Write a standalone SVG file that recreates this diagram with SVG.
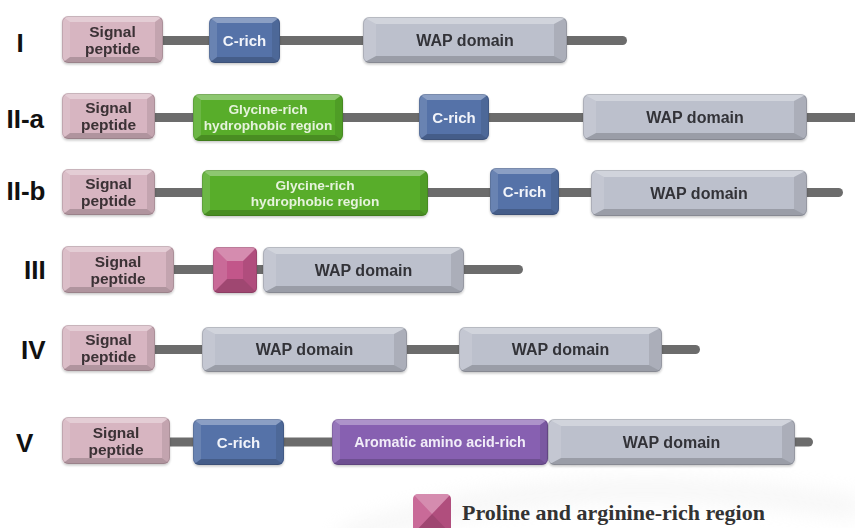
<svg xmlns="http://www.w3.org/2000/svg" width="855" height="528" viewBox="0 0 855 528">
<style>
.bg{fill:#ffffff}
.ln{stroke:#6c6c6c;stroke-width:9;fill:none;stroke-linecap:round}
.sp{fill:#D7B5C1}
.cr{fill:#5572A8}
.wap{fill:#BCC0CC}
.gl{fill:#58AD2C}
.ar{fill:#8761B1}
.pr{fill:#C2568A}
.t{fill:#ffffff;fill-opacity:.32}
.b{fill:#000000;fill-opacity:.18}
.l{fill:#ffffff;fill-opacity:.12}
.r{fill:#000000;fill-opacity:.09}
.edge{fill:none;stroke:#000;stroke-opacity:.12;stroke-width:1}
text{font-family:"Liberation Sans",Arial,sans-serif;font-weight:bold}
.tsp{font-size:15.5px;fill:#3a3034;text-anchor:middle}
.tcr{font-size:15px;fill:#f2f4fa;text-anchor:middle}
.twap{font-size:16px;fill:#333338;text-anchor:middle}
.tgl{font-size:13.7px;fill:#e6f3dc;text-anchor:middle}
.tar{font-size:14.3px;fill:#f1ecf8;text-anchor:middle}
.row{font-size:26px;fill:#111111}
.leg{font-family:"Liberation Serif","Times New Roman",serif;font-size:22px;fill:#333333}
.sh{filter:url(#ds)}
</style>
<defs>
<filter id="ds" x="-10%" y="-20%" width="120%" height="150%">
<feDropShadow dx="0" dy="1.5" stdDeviation="1.2" flood-color="#000" flood-opacity="0.22"/>
</filter>
<filter id="blur" x="-20%" y="-50%" width="140%" height="200%"><feGaussianBlur stdDeviation="10"/></filter>
<clipPath id="c1"><rect x="62" y="16" width="101" height="47" rx="6"/></clipPath>
<clipPath id="c2"><rect x="209" y="17" width="71" height="46" rx="6"/></clipPath>
<clipPath id="c3"><rect x="363" y="17" width="204" height="46" rx="6"/></clipPath>
<clipPath id="c4"><rect x="62" y="93" width="93" height="46" rx="6"/></clipPath>
<clipPath id="c5"><rect x="193" y="94" width="150" height="47" rx="6"/></clipPath>
<clipPath id="c6"><rect x="419" y="94" width="70" height="46" rx="6"/></clipPath>
<clipPath id="c7"><rect x="583" y="94" width="224" height="46" rx="6"/></clipPath>
<clipPath id="c8"><rect x="62" y="169" width="93" height="46" rx="6"/></clipPath>
<clipPath id="c9"><rect x="202" y="170" width="226" height="46" rx="6"/></clipPath>
<clipPath id="c10"><rect x="490" y="168" width="69" height="47" rx="6"/></clipPath>
<clipPath id="c11"><rect x="591" y="170" width="216" height="46" rx="6"/></clipPath>
<clipPath id="c12"><rect x="62" y="246" width="112" height="47" rx="6"/></clipPath>
<clipPath id="c13"><rect x="213" y="247" width="44" height="46" rx="5"/></clipPath>
<clipPath id="c14"><rect x="263" y="247" width="201" height="46" rx="6"/></clipPath>
<clipPath id="c15"><rect x="62" y="325" width="93" height="46" rx="6"/></clipPath>
<clipPath id="c16"><rect x="202" y="327" width="205" height="45" rx="6"/></clipPath>
<clipPath id="c17"><rect x="459" y="327" width="203" height="45" rx="6"/></clipPath>
<clipPath id="c18"><rect x="62" y="417" width="108" height="47" rx="6"/></clipPath>
<clipPath id="c19"><rect x="193" y="419" width="91" height="46" rx="6"/></clipPath>
<clipPath id="c20"><rect x="332" y="419" width="216" height="46" rx="6"/></clipPath>
<clipPath id="c21"><rect x="548" y="419" width="247" height="46" rx="6"/></clipPath>
<clipPath id="c22"><rect x="413" y="494" width="38" height="40" rx="5"/></clipPath>
</defs>
<rect class="bg" x="0" y="0" width="855" height="528"/>
<path d="M340 540 Q560 460 860 508" stroke="#e6e6e6" stroke-width="22" fill="none" opacity="0.35" filter="url(#blur)"/>

<g id="connectors">
<path class="ln" d="M150 40.5 H622.5"/>
<path class="ln" d="M150 117.5 H870"/>
<path class="ln" d="M150 192.5 H838.5"/>
<path class="ln" d="M160 269.5 H518.5"/>
<path class="ln" d="M150 349.5 H695.5"/>
<path class="ln" d="M150 442 H808.5"/>
</g>

<g id="labels">
<text class="row" x="16.5" y="52">I</text>
<text class="row" x="6.5" y="128">II-a</text>
<text class="row" x="6.5" y="200">II-b</text>
<text class="row" x="24" y="279">III</text>
<text class="row" x="21" y="359">IV</text>
<text class="row" x="16" y="452">V</text>
</g>

<!-- Row I -->
<g id="sp1" class="sh"><g clip-path="url(#c1)">
<rect class="sp" x="62" y="16" width="101" height="47"/>
<polygon class="t" points="62,16 163,16 155,22 70,22"/>
<polygon class="b" points="62,63 163,63 155,57 70,57"/>
<polygon class="l" points="62,16 70,22 70,57 62,63"/>
<polygon class="r" points="163,16 155,22 155,57 163,63"/>
</g><rect class="edge" x="62.5" y="16.5" width="100" height="46" rx="6"/>
<text class="tsp" x="112.5" y="36.5">Signal</text><text class="tsp" x="112.5" y="53.5">peptide</text></g>

<g id="cr1" class="sh"><g clip-path="url(#c2)">
<rect class="cr" x="209" y="17" width="71" height="46"/>
<polygon class="t" points="209,17 280,17 272,23 217,23"/>
<polygon class="b" points="209,63 280,63 272,57 217,57"/>
<polygon class="l" points="209,17 217,23 217,57 209,63"/>
<polygon class="r" points="280,17 272,23 272,57 280,63"/>
</g><rect class="edge" x="209.5" y="17.5" width="70" height="45" rx="6"/>
<text class="tcr" x="244.5" y="45.5">C-rich</text></g>

<g id="wap1" class="sh"><g clip-path="url(#c3)">
<rect class="wap" x="363" y="17" width="204" height="46"/>
<polygon class="t" points="363,17 567,17 554,24 376,24"/>
<polygon class="b" points="363,63 567,63 554,56 376,56"/>
<polygon class="l" points="363,17 376,24 376,56 363,63"/>
<polygon class="r" points="567,17 554,24 554,56 567,63"/>
</g><rect class="edge" x="363.5" y="17.5" width="203" height="45" rx="6"/>
<text class="twap" x="465" y="45.5">WAP domain</text></g>

<!-- Row II-a -->
<g id="sp2" class="sh"><g clip-path="url(#c4)">
<rect class="sp" x="62" y="93" width="93" height="46"/>
<polygon class="t" points="62,93 155,93 147,99 70,99"/>
<polygon class="b" points="62,139 155,139 147,133 70,133"/>
<polygon class="l" points="62,93 70,99 70,133 62,139"/>
<polygon class="r" points="155,93 147,99 147,133 155,139"/>
</g><rect class="edge" x="62.5" y="93.5" width="92" height="45" rx="6"/>
<text class="tsp" x="108.5" y="113">Signal</text><text class="tsp" x="108.5" y="130">peptide</text></g>

<g id="gl2" class="sh"><g clip-path="url(#c5)">
<rect class="gl" x="193" y="94" width="150" height="47"/>
<polygon class="t" points="193,94 343,94 335,100 201,100"/>
<polygon class="b" points="193,141 343,141 335,135 201,135"/>
<polygon class="l" points="193,94 201,100 201,135 193,141"/>
<polygon class="r" points="343,94 335,100 335,135 343,141"/>
</g><rect class="edge" x="193.5" y="94.5" width="149" height="46" rx="6"/>
<text class="tgl" x="268" y="114">Glycine-rich</text><text class="tgl" x="268" y="130">hydrophobic region</text></g>

<g id="cr2" class="sh"><g clip-path="url(#c6)">
<rect class="cr" x="419" y="94" width="70" height="46"/>
<polygon class="t" points="419,94 489,94 481,100 427,100"/>
<polygon class="b" points="419,140 489,140 481,134 427,134"/>
<polygon class="l" points="419,94 427,100 427,134 419,140"/>
<polygon class="r" points="489,94 481,100 481,134 489,140"/>
</g><rect class="edge" x="419.5" y="94.5" width="69" height="45" rx="6"/>
<text class="tcr" x="454" y="122.5">C-rich</text></g>

<g id="wap2" class="sh"><g clip-path="url(#c7)">
<rect class="wap" x="583" y="94" width="224" height="46"/>
<polygon class="t" points="583,94 807,94 794,101 596,101"/>
<polygon class="b" points="583,140 807,140 794,133 596,133"/>
<polygon class="l" points="583,94 596,101 596,133 583,140"/>
<polygon class="r" points="807,94 794,101 794,133 807,140"/>
</g><rect class="edge" x="583.5" y="94.5" width="223" height="45" rx="6"/>
<text class="twap" x="695" y="122.5">WAP domain</text></g>

<!-- Row II-b -->
<g id="sp3" class="sh"><g clip-path="url(#c8)">
<rect class="sp" x="62" y="169" width="93" height="46"/>
<polygon class="t" points="62,169 155,169 147,175 70,175"/>
<polygon class="b" points="62,215 155,215 147,209 70,209"/>
<polygon class="l" points="62,169 70,175 70,209 62,215"/>
<polygon class="r" points="155,169 147,175 147,209 155,215"/>
</g><rect class="edge" x="62.5" y="169.5" width="92" height="45" rx="6"/>
<text class="tsp" x="108.5" y="189">Signal</text><text class="tsp" x="108.5" y="206">peptide</text></g>

<g id="gl3" class="sh"><g clip-path="url(#c9)">
<rect class="gl" x="202" y="170" width="226" height="46"/>
<polygon class="t" points="202,170 428,170 420,176 210,176"/>
<polygon class="b" points="202,216 428,216 420,210 210,210"/>
<polygon class="l" points="202,170 210,176 210,210 202,216"/>
<polygon class="r" points="428,170 420,176 420,210 428,216"/>
</g><rect class="edge" x="202.5" y="170.5" width="225" height="45" rx="6"/>
<text class="tgl" x="315" y="189.5">Glycine-rich</text><text class="tgl" x="315" y="205.5">hydrophobic region</text></g>

<g id="cr3" class="sh"><g clip-path="url(#c10)">
<rect class="cr" x="490" y="168" width="69" height="47"/>
<polygon class="t" points="490,168 559,168 551,174 498,174"/>
<polygon class="b" points="490,215 559,215 551,209 498,209"/>
<polygon class="l" points="490,168 498,174 498,209 490,215"/>
<polygon class="r" points="559,168 551,174 551,209 559,215"/>
</g><rect class="edge" x="490.5" y="168.5" width="68" height="46" rx="6"/>
<text class="tcr" x="524.5" y="197">C-rich</text></g>

<g id="wap3" class="sh"><g clip-path="url(#c11)">
<rect class="wap" x="591" y="170" width="216" height="46"/>
<polygon class="t" points="591,170 807,170 794,177 604,177"/>
<polygon class="b" points="591,216 807,216 794,209 604,209"/>
<polygon class="l" points="591,170 604,177 604,209 591,216"/>
<polygon class="r" points="807,170 794,177 794,209 807,216"/>
</g><rect class="edge" x="591.5" y="170.5" width="215" height="45" rx="6"/>
<text class="twap" x="699" y="198.5">WAP domain</text></g>

<!-- Row III -->
<g id="sp4" class="sh"><g clip-path="url(#c12)">
<rect class="sp" x="62" y="246" width="112" height="47"/>
<polygon class="t" points="62,246 174,246 166,252 70,252"/>
<polygon class="b" points="62,293 174,293 166,287 70,287"/>
<polygon class="l" points="62,246 70,252 70,287 62,293"/>
<polygon class="r" points="174,246 166,252 166,287 174,293"/>
</g><rect class="edge" x="62.5" y="246.5" width="111" height="46" rx="6"/>
<text class="tsp" x="118" y="266.5">Signal</text><text class="tsp" x="118" y="283.5">peptide</text></g>

<g id="pr4" class="sh"><g clip-path="url(#c13)">
<rect class="pr" x="213" y="247" width="44" height="46"/>
<polygon class="t" points="213,247 257,247 243,261 227,261"/>
<polygon class="b" points="213,293 257,293 243,279 227,279"/>
<polygon class="l" points="213,247 227,261 227,279 213,293"/>
<polygon class="r" points="257,247 243,261 243,279 257,293"/>
</g><rect class="edge" x="213.5" y="247.5" width="43" height="45" rx="5"/></g>

<g id="wap4" class="sh"><g clip-path="url(#c14)">
<rect class="wap" x="263" y="247" width="201" height="46"/>
<polygon class="t" points="263,247 464,247 451,254 276,254"/>
<polygon class="b" points="263,293 464,293 451,286 276,286"/>
<polygon class="l" points="263,247 276,254 276,286 263,293"/>
<polygon class="r" points="464,247 451,254 451,286 464,293"/>
</g><rect class="edge" x="263.5" y="247.5" width="200" height="45" rx="6"/>
<text class="twap" x="363.5" y="275.5">WAP domain</text></g>

<!-- Row IV -->
<g id="sp5" class="sh"><g clip-path="url(#c15)">
<rect class="sp" x="62" y="325" width="93" height="46"/>
<polygon class="t" points="62,325 155,325 147,331 70,331"/>
<polygon class="b" points="62,371 155,371 147,365 70,365"/>
<polygon class="l" points="62,325 70,331 70,365 62,371"/>
<polygon class="r" points="155,325 147,331 147,365 155,371"/>
</g><rect class="edge" x="62.5" y="325.5" width="92" height="45" rx="6"/>
<text class="tsp" x="108.5" y="345">Signal</text><text class="tsp" x="108.5" y="362">peptide</text></g>

<g id="wap5" class="sh"><g clip-path="url(#c16)">
<rect class="wap" x="202" y="327" width="205" height="45"/>
<polygon class="t" points="202,327 407,327 394,334 215,334"/>
<polygon class="b" points="202,372 407,372 394,365 215,365"/>
<polygon class="l" points="202,327 215,334 215,365 202,372"/>
<polygon class="r" points="407,327 394,334 394,365 407,372"/>
</g><rect class="edge" x="202.5" y="327.5" width="204" height="44" rx="6"/>
<text class="twap" x="304.5" y="355">WAP domain</text></g>

<g id="wap6" class="sh"><g clip-path="url(#c17)">
<rect class="wap" x="459" y="327" width="203" height="45"/>
<polygon class="t" points="459,327 662,327 649,334 472,334"/>
<polygon class="b" points="459,372 662,372 649,365 472,365"/>
<polygon class="l" points="459,327 472,334 472,365 459,372"/>
<polygon class="r" points="662,327 649,334 649,365 662,372"/>
</g><rect class="edge" x="459.5" y="327.5" width="202" height="44" rx="6"/>
<text class="twap" x="560.5" y="355">WAP domain</text></g>

<!-- Row V -->
<g id="sp6" class="sh"><g clip-path="url(#c18)">
<rect class="sp" x="62" y="417" width="108" height="47"/>
<polygon class="t" points="62,417 170,417 162,423 70,423"/>
<polygon class="b" points="62,464 170,464 162,458 70,458"/>
<polygon class="l" points="62,417 70,423 70,458 62,464"/>
<polygon class="r" points="170,417 162,423 162,458 170,464"/>
</g><rect class="edge" x="62.5" y="417.5" width="107" height="46" rx="6"/>
<text class="tsp" x="116" y="437.5">Signal</text><text class="tsp" x="116" y="454.5">peptide</text></g>

<g id="cr6" class="sh"><g clip-path="url(#c19)">
<rect class="cr" x="193" y="419" width="91" height="46"/>
<polygon class="t" points="193,419 284,419 276,425 201,425"/>
<polygon class="b" points="193,465 284,465 276,459 201,459"/>
<polygon class="l" points="193,419 201,425 201,459 193,465"/>
<polygon class="r" points="284,419 276,425 276,459 284,465"/>
</g><rect class="edge" x="193.5" y="419.5" width="90" height="45" rx="6"/>
<text class="tcr" x="238.5" y="447.5">C-rich</text></g>

<g id="ar6" class="sh"><g clip-path="url(#c20)">
<rect class="ar" x="332" y="419" width="216" height="46"/>
<polygon class="t" points="332,419 548,419 540,425 340,425"/>
<polygon class="b" points="332,465 548,465 540,459 340,459"/>
<polygon class="l" points="332,419 340,425 340,459 332,465"/>
<polygon class="r" points="548,419 540,425 540,459 548,465"/>
</g><rect class="edge" x="332.5" y="419.5" width="215" height="45" rx="6"/>
<text class="tar" x="440" y="447">Aromatic amino acid-rich</text></g>

<g id="wap7" class="sh"><g clip-path="url(#c21)">
<rect class="wap" x="548" y="419" width="247" height="46"/>
<polygon class="t" points="548,419 795,419 782,426 561,426"/>
<polygon class="b" points="548,465 795,465 782,458 561,458"/>
<polygon class="l" points="548,419 561,426 561,458 548,465"/>
<polygon class="r" points="795,419 782,426 782,458 795,465"/>
</g><rect class="edge" x="548.5" y="419.5" width="246" height="45" rx="6"/>
<text class="twap" x="671.5" y="448">WAP domain</text></g>

<!-- Legend -->
<g id="legend">
<g clip-path="url(#c22)">
<rect class="pr" x="413" y="494" width="38" height="40"/>
<polygon class="t" points="413,494 451,494 432,514"/>
<polygon class="b" points="413,534 451,534 432,514"/>
<polygon class="l" points="413,494 432,514 413,534"/>
<polygon class="r" points="451,494 432,514 451,534"/>
</g>
<text class="leg" x="462" y="520">Proline and arginine-rich region</text>
</g>
</svg>
